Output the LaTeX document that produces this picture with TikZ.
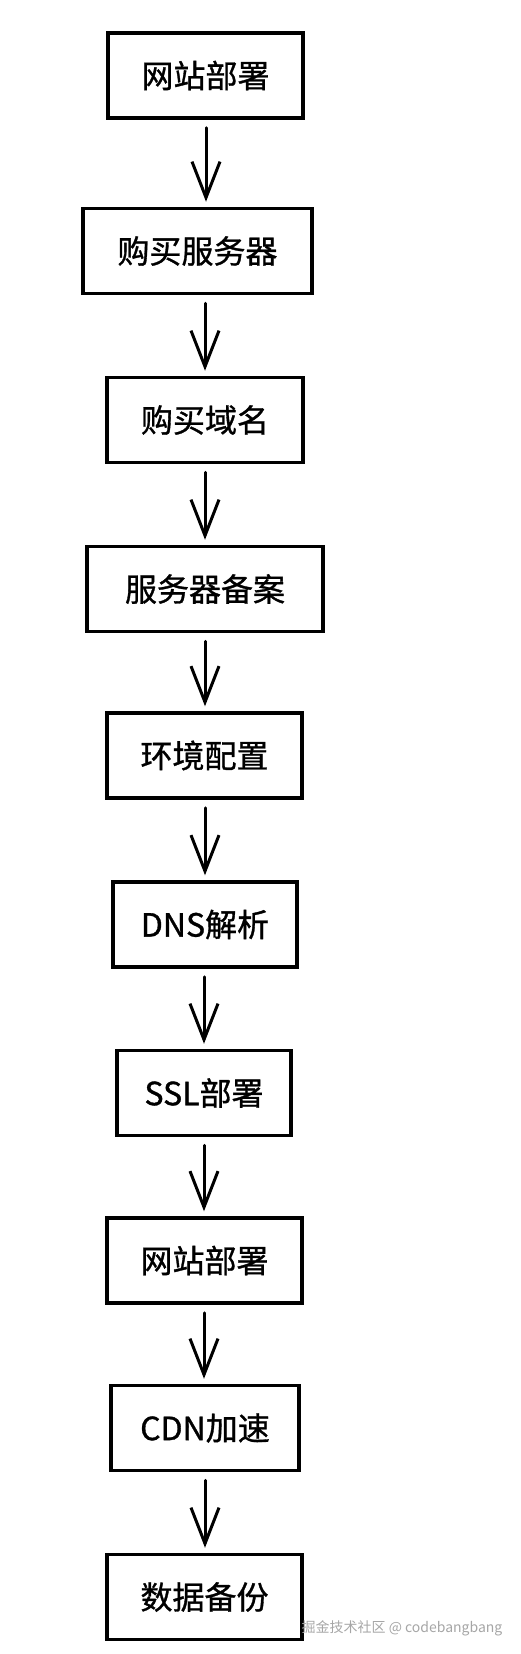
\documentclass[tikz,border=0pt]{standalone}
\usepackage{fontspec}
\newfontfamily\cjk{Noto Sans CJK SC}
\newfontfamily\cjkmid[FakeBold=1]{Noto Sans CJK SC}
\usepackage{xcolor}
\usepackage{tikz}
\usetikzlibrary{arrows.meta,positioning}

\begin{document}
\begin{tikzpicture}[
  x=1pt, y=-1pt,
  every node/.style={font=\cjkmid\fontsize{32}{36}\selectfont},
  stepbox/.style={draw, line width=3.5pt, minimum height=85pt, inner sep=0pt},
  arrow/.style={-{Straight Barb[length=36pt,width=28pt]}, line width=3pt, line cap=round, shorten <=8pt, shorten >=5pt}
]
\useasboundingbox (0,0) rectangle (520,1654);

% Steps
\node[stepbox, minimum width=195pt] (site)   at (205.5,75.5)  {网站部署};
\node[stepbox, minimum width=229pt] (server) at (197.5,251)   {购买服务器};
\node[stepbox, minimum width=196pt] (domain) at (205,420)     {购买域名};
\node[stepbox, minimum width=236pt] (icp)    at (205,589)     {服务器备案};
\node[stepbox, minimum width=195pt] (env)    at (204.5,755.5) {环境配置};
\node[stepbox, minimum width=184pt] (dns)    at (205,924.5)   {DNS解析};
\node[stepbox, minimum width=174pt] (ssl)    at (204,1093)    {SSL部署};
\node[stepbox, minimum width=195pt] (deploy) at (204.5,1260.5){网站部署};
\node[stepbox, minimum width=188pt] (cdn)    at (205,1428)    {CDN加速};
\node[stepbox, minimum width=195pt] (backup) at (204.5,1597)  {数据备份};

% Flow
\draw[arrow] (site.south -| 206,0)   -- (server.north -| 206,0);
\draw[arrow] (server.south -| 205,0) -- (domain.north -| 205,0);
\draw[arrow] (domain.south -| 205,0) -- (icp.north -| 205,0);
\draw[arrow] (icp.south -| 205,0)    -- (env.north -| 205,0);
\draw[arrow] (env.south -| 205,0)    -- (dns.north -| 205,0);
\draw[arrow] (dns.south -| 204,0)    -- (ssl.north -| 204,0);
\draw[arrow] (ssl.south -| 204,0)    -- (deploy.north -| 204,0);
\draw[arrow] (deploy.south -| 204,0) -- (cdn.north -| 204,0);
\draw[arrow] (cdn.south -| 205,0)    -- (backup.north -| 205,0);

% Watermark
\node[font=\cjk\fontsize{14}{16}\selectfont, text=gray!70, inner sep=0pt] (wm) at (402,1628) {掘金技术社区 @ codebangbang};

\end{tikzpicture}
\end{document}
